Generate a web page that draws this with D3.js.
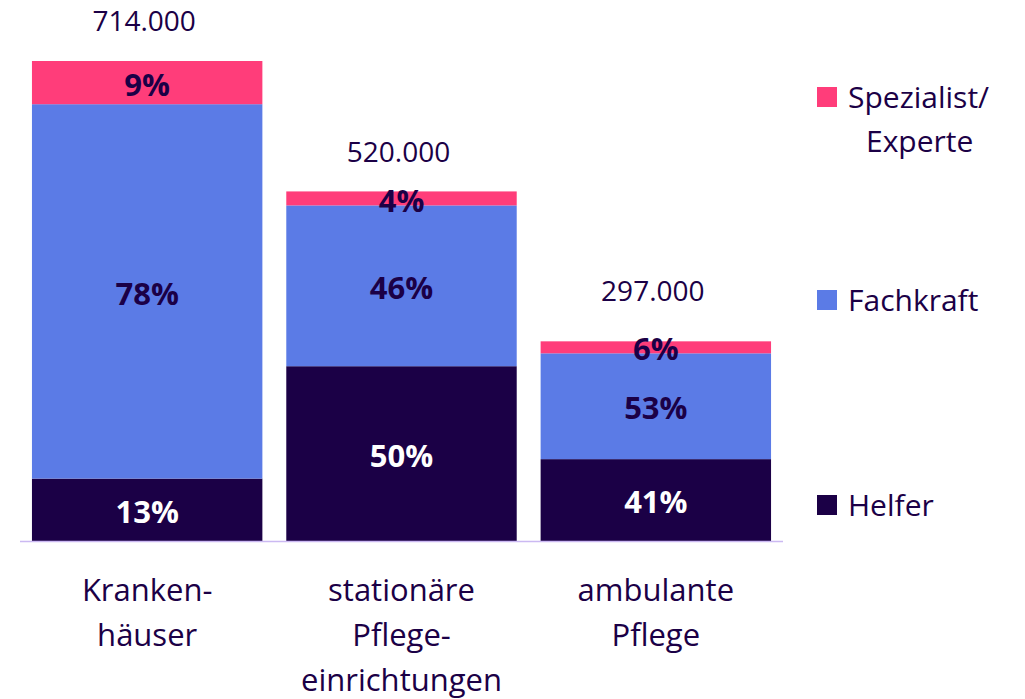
<!DOCTYPE html>
<html>
<head>
<meta charset="utf-8">
<script src="https://cdn.jsdelivr.net/npm/d3@7"></script>
<style>
  body { margin: 0; background: #fff; }
  text { font-family: "Open Sans", sans-serif; }
</style>
</head>
<body>
<div id="chart"></div>
<script>
var width = 1025
var height = 699

// data
var categories = [["Kranken-", "häuser"], ["stationäre", "Pflege-", "einrichtungen"], ["ambulante", "Pflege"]]
var totals = [714000, 520000, 297000]
var totalLabels = ["714.000", "520.000", "297.000"]
var helfer = [13, 50, 41]
var fachkraft = [78, 46, 53]
var spezialist = [9, 4, 6]
var seriesNames = ["Helfer", "Fachkraft", "Spezialist/\nExperte"]

var colors = ["#1b0046", "#5b7be6", "#ff3d7a"]
var textColor = "#1b0046"

var svg = d3.select("#chart")
  .append("svg")
    .attr("width", width)
    .attr("height", height)

var x = d3.scaleBand()
  .domain(d3.range(categories.length))
  .range([20, 783])
  .paddingInner(0.094)
  .paddingOuter(0.047)

var y = d3.scaleLinear()
  .domain([0, 714000])
  .range([541, 61])

// build stacked rows in absolute numbers
var rows = totals.map(function(t, i) {
  return { i: i, total: t, s0: t * helfer[i] / 100, s1: t * fachkraft[i] / 100, s2: t * spezialist[i] / 100,
           p: [helfer[i], fachkraft[i], spezialist[i]] }
})
var stack = d3.stack().keys(["s0", "s1", "s2"])(rows)

var layer = svg.selectAll("g.layer")
  .data(stack)
  .enter().append("g")
    .attr("class", "layer")
    .attr("fill", function(d, k) { return colors[k] })

layer.selectAll("rect")
  .data(function(d) { return d })
  .enter().append("rect")
    .attr("x", function(d) { return x(d.data.i) })
    .attr("width", x.bandwidth())
    .attr("y", function(d) { return y(d[1]) })
    .attr("height", function(d) { return y(d[0]) - y(d[1]) })

// percent labels
stack.forEach(function(s, k) {
  svg.append("g").selectAll("text")
    .data(s)
    .enter().append("text")
      .attr("x", function(d) { return x(d.data.i) + x.bandwidth() / 2 })
      .attr("y", function(d) { return (y(d[0]) + y(d[1])) / 2 + 2 })
      .attr("dy", "0.36em")
      .attr("text-anchor", "middle")
      .attr("font-size", 31)
      .attr("font-weight", "bold")
      .attr("fill", k == 0 ? "#fff" : textColor)
      .text(function(d) { return d.data.p[k] + "%" })
})

// totals above bars
svg.append("g").selectAll("text")
  .data(totals)
  .enter().append("text")
    .attr("x", function(d, i) { return x(i) + x.bandwidth() / 2 - 3 })
    .attr("y", function(d, i) { return y(d) - (i == 2 ? 50 : 40) })
    .attr("dy", "0.36em")
    .attr("text-anchor", "middle")
    .attr("font-size", 28)
    .attr("fill", textColor)
    .text(function(d, i) { return totalLabels[i] })

// baseline
svg.append("line")
  .attr("x1", 20).attr("x2", 783)
  .attr("y1", y(0) + 0.5).attr("y2", y(0) + 0.5)
  .attr("stroke", "#cbb9f2")
  .attr("stroke-width", 1.5)

// category labels
var cat = svg.append("g").selectAll("text")
  .data(categories)
  .enter().append("text")
    .attr("text-anchor", "middle")
    .attr("font-size", 31)
    .attr("fill", textColor)
    .attr("transform", function(d, i) { return "translate(" + (x(i) + x.bandwidth() / 2) + ",590)" })

cat.selectAll("tspan")
  .data(function(d) { return d })
  .enter().append("tspan")
    .attr("x", 0)
    .attr("y", function(d, j) { return j * 45 })
    .attr("dy", "0.36em")
    .text(function(d) { return d })

// legend (top to bottom: Spezialist, Fachkraft, Helfer)
var legendY = [97, 300, 505]
var legend = svg.append("g").selectAll("g")
  .data([2, 1, 0])
  .enter().append("g")
    .attr("transform", function(k, n) { return "translate(817," + legendY[n] + ")" })

legend.append("rect")
  .attr("x", 0).attr("y", -10)
  .attr("width", 20).attr("height", 20)
  .attr("fill", function(k) { return colors[k] })

legend.append("text")
  .attr("font-size", 30)
  .attr("fill", textColor)
  .selectAll("tspan")
  .data(function(k) { return seriesNames[k].split("\n") })
  .enter().append("tspan")
    .attr("x", function(d, j) { return j == 0 ? 31 : 49 })
    .attr("y", function(d, j) { return j * 44 })
    .attr("dy", "0.36em")
    .text(function(d) { return d })
</script>
</body>
</html>
